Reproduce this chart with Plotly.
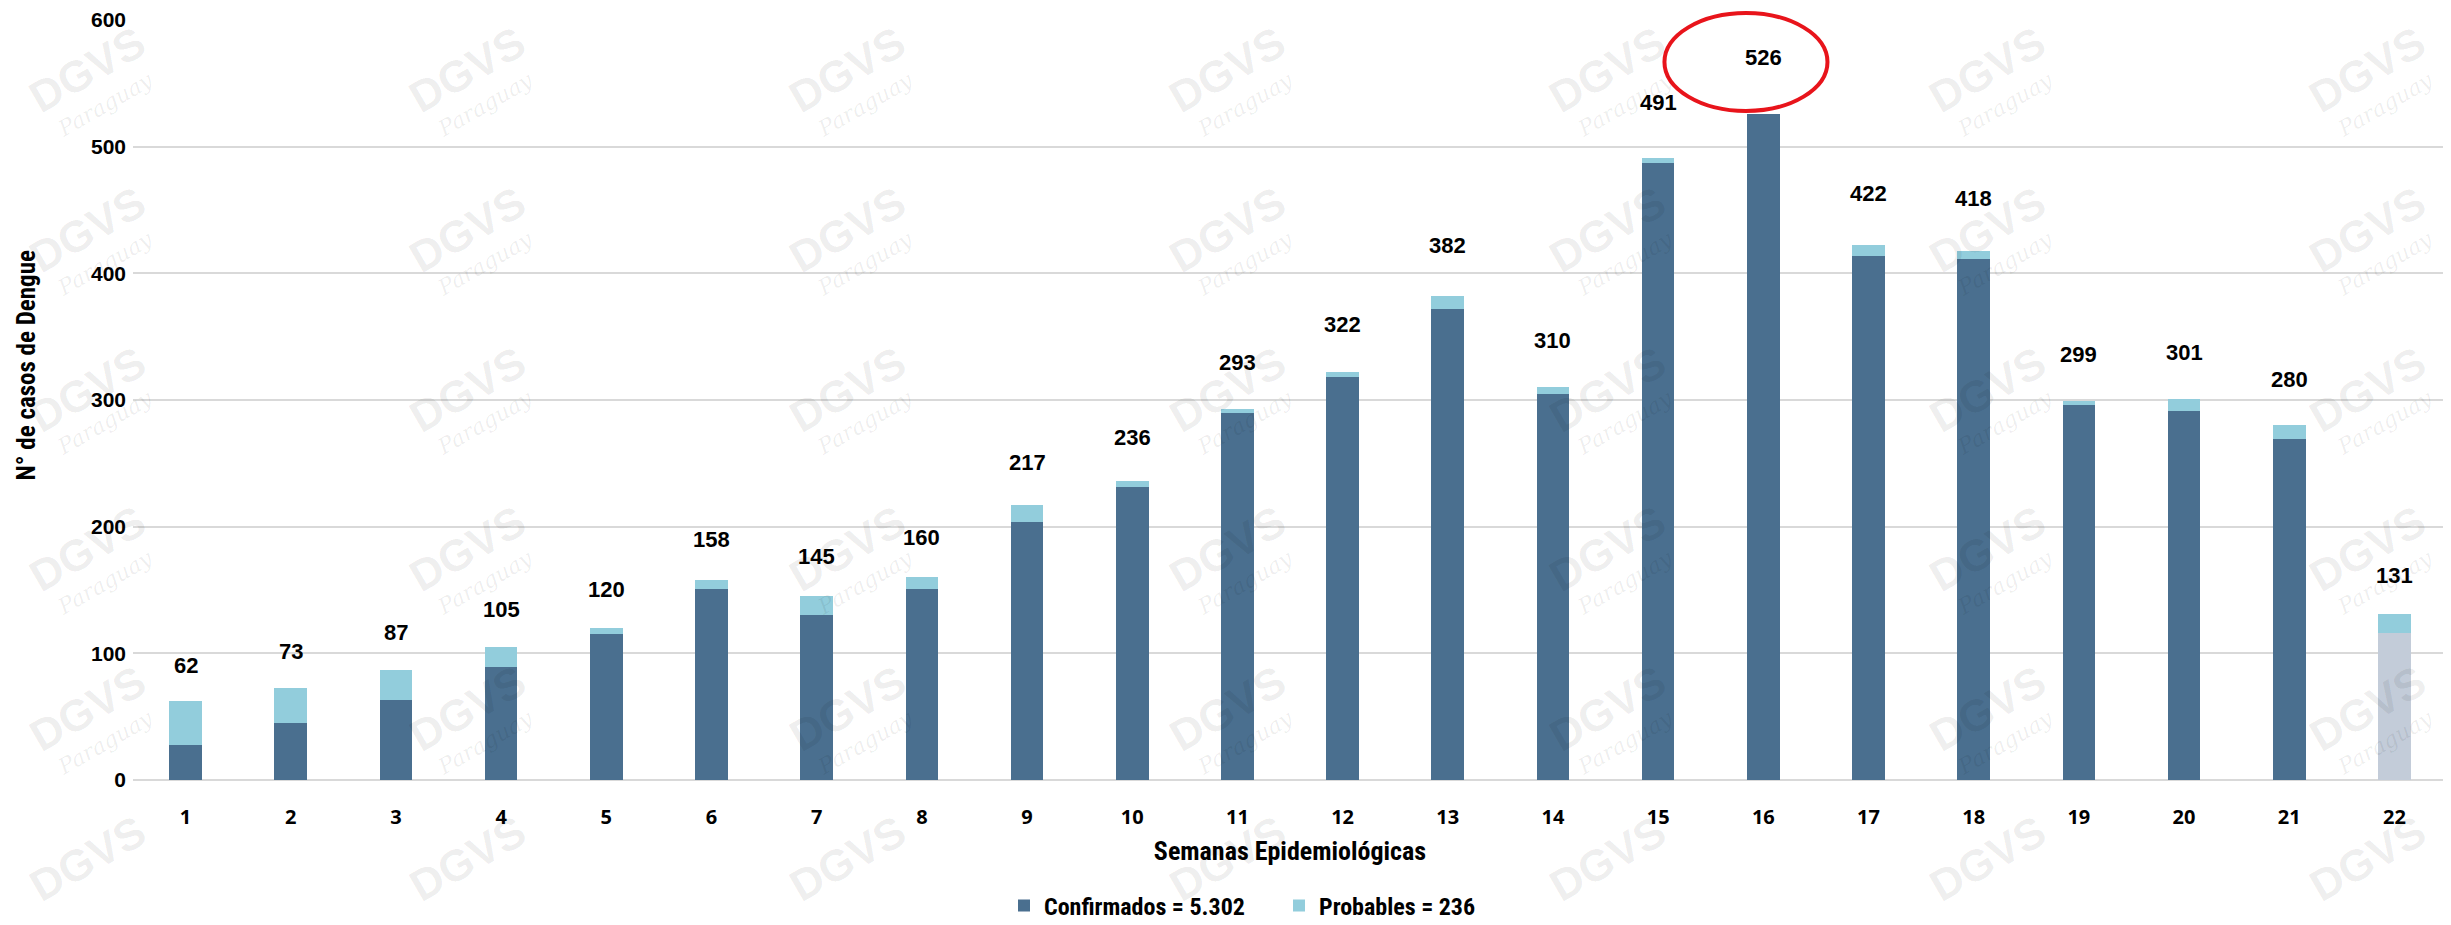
import plotly.graph_objects as go

# ---- data ----
weeks = list(range(1, 23))
week_labels = [str(w) for w in weeks]
confirmados = [28, 45, 63, 89, 115, 151, 130, 151, 204, 231, 290, 318, 372, 305, 487, 526, 414, 411, 296, 291, 269, 116]
probables = [34, 28, 24, 16, 5, 7, 15, 9, 13, 5, 3, 4, 10, 5, 4, 0, 8, 7, 3, 10, 11, 15]
totales = [62, 73, 87, 105, 120, 158, 145, 160, 217, 236, 293, 322, 382, 310, 491, 526, 422, 418, 299, 301, 280, 131]
legend_conf = "Confirmados = 5.302"
legend_prob = "Probables = 236"
x_title = "Semanas Epidemiológicas"
y_title = "N° de casos de Dengue"
y_ticks = [0, 100, 200, 300, 400, 500, 600]

# the page body has an 8px margin: figure starts 8px right/down in the window
OFF = 8
W, H = 2451 - OFF, 925 - OFF
PLOT_LEFT, PLOT_RIGHT, PLOT_TOP, PLOT_BOTTOM = 133, 2447, 20, 780   # window pixels
L = PLOT_LEFT - OFF
R = W - (PLOT_RIGHT - OFF)
T = PLOT_TOP - OFF
B = H - (PLOT_BOTTOM - OFF)
PW, PH = W - L - R, H - T - B

C_CONF = "#4a6f8f"
C_CONF_LAST = "#c3ccd9"
C_PROB = "#92cddc"

NARROW = "Liberation Sans Narrow, Arial Narrow, Roboto Condensed, Liberation Sans, sans-serif"
ARIAL = "Liberation Sans, Arial, sans-serif"

conf_colors = [C_CONF] * (len(weeks) - 1) + [C_CONF_LAST]

fig = go.Figure()
fig.add_trace(go.Bar(x=weeks, y=confirmados, name=f"<b>{legend_conf}</b>",
                     marker=dict(color=conf_colors, line=dict(width=0)),
                     hoverinfo="x+y"))
fig.add_trace(go.Bar(x=weeks, y=probables, name=f"<b>{legend_prob}</b>",
                     marker=dict(color=C_PROB, line=dict(width=0)),
                     hoverinfo="x+y"))


def px2paper(px, py):
    fx, fy = px - OFF, py - OFF
    return (fx - L) / PW, (H - B - fy) / PH


annotations = []
# watermark (very faint)
for col in range(7):
    for row in range(6):
        cx = 87 + 380 * col
        cy = 70 + 159.5 * row
        if row == 5:
            cy = 858
        xp, yp = px2paper(cx, cy)
        annotations.append(dict(xref="paper", yref="paper", x=xp, y=yp, text="<b>DGVS</b>",
                                showarrow=False, textangle=-30, xanchor="center", yanchor="middle",
                                font=dict(family=ARIAL, size=44, color="rgba(0,0,0,0.075)")))
        if row < 5:
            xp2, yp2 = px2paper(cx + 18, cy + 34)
            annotations.append(dict(xref="paper", yref="paper", x=xp2, y=yp2, text="<i>Paraguay</i>",
                                    showarrow=False, textangle=-30, xanchor="center", yanchor="middle",
                                    font=dict(family="DejaVu Serif, serif", size=22, color="rgba(0,0,0,0.07)")))

# totals labels
for w, t in zip(weeks, totales):
    annotations.append(dict(x=w, y=t, xref="x", yref="y", text=f"<b>{t}</b>", showarrow=False,
                            xanchor="center", yanchor="middle", yshift=33 + 0.045 * t,
                            font=dict(family=ARIAL, size=22, color="#000000")))

# y axis title
xp, yp = px2paper(25.5, 366)
annotations.append(dict(xref="paper", yref="paper", x=xp, y=yp, text=f"<b>{y_title}</b>",
                        showarrow=False, textangle=-90, xanchor="center", yanchor="middle",
                        font=dict(family=NARROW, size=25, color="#000000")))

# red ellipse around the peak
_, ey0 = px2paper(0, 111)
_, ey1 = px2paper(0, 13)
shapes = [dict(type="circle", xref="x", yref="paper", x0=15.06, x1=16.61, y0=ey0, y1=ey1,
               line=dict(color="#e8141b", width=4), fillcolor="rgba(0,0,0,0)", layer="above")]

lx, ly = px2paper(1279, 906)

fig.update_layout(
    width=W, height=H,
    barmode="stack",
    bargap=0.69,
    plot_bgcolor="white", paper_bgcolor="white",
    margin=dict(l=L, r=R, t=T, b=B, pad=0, autoexpand=False),
    showlegend=True,
    legend=dict(orientation="h", x=lx, y=ly, xanchor="center", yanchor="middle",
                font=dict(family=NARROW, size=24, color="#000000"),
                traceorder="normal", itemwidth=30, entrywidth=230, bgcolor="rgba(0,0,0,0)"),
    xaxis=dict(range=[0.5, 22.5], tickmode="array", tickvals=weeks, ticktext=[f"<b>{s}</b>" for s in week_labels],
               showgrid=False, zeroline=False, showline=False, ticks="", automargin=False,
               tickfont=dict(family="Open Sans, Noto Sans, sans-serif", size=20, color="#000000"),
               ticklabelstandoff=23,
               title=dict(text=f"<b>{x_title}</b>", standoff=12,
                          font=dict(family=NARROW, size=26, color="#000000"))),
    yaxis=dict(range=[0, 600], tickmode="array", tickvals=y_ticks,
               ticktext=[f"<b>{v}</b>" for v in y_ticks],
               showgrid=True, gridcolor="#d9d9d9", gridwidth=2,
               zeroline=True, zerolinecolor="#d9d9d9", zerolinewidth=2,
               showline=False, ticks="", ticklabelstandoff=6, automargin=False,
               tickfont=dict(family=ARIAL, size=21, color="#000000")),
    annotations=annotations,
    shapes=shapes,
)

fig.write_html("out.html")
